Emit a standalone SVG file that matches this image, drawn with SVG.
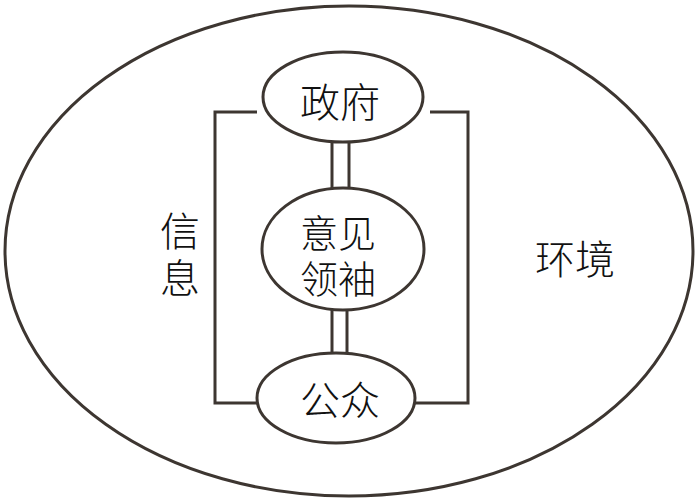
<svg xmlns="http://www.w3.org/2000/svg" width="700" height="503" viewBox="0 0 700 503">
<style>
.e{fill:#fff;stroke:#3d3631;stroke-width:3}
.c{fill:none;stroke:#3d3631;stroke-width:3}
.t{font-family:"Noto Sans CJK SC","Noto Sans CJK TC",sans-serif;font-size:40px;font-weight:300;fill:#111;text-anchor:middle;dominant-baseline:central}
</style>
<rect width="700" height="503" fill="#fff"/>
<g id="env">
<ellipse class="e" cx="349" cy="251" rx="344" ry="245"/>
<text class="t" x="575" y="257">环境</text>
</g>
<g id="connectors">
<polyline class="c" points="257,112 215,112 215,403 257,403"/>
<polyline class="c" points="430,112 468,112 468,403 415,403"/>
<line class="c" x1="332" y1="140" x2="332" y2="190"/>
<line class="c" x1="349" y1="140" x2="349" y2="190"/>
<line class="c" x1="332" y1="308" x2="332" y2="355"/>
<line class="c" x1="347" y1="308" x2="347" y2="355"/>
</g>
<g id="info-label">
<text class="t" x="180" y="229"><tspan x="180" y="229">信</tspan><tspan x="180" y="276">息</tspan></text>
</g>
<g id="gov">
<ellipse class="e" cx="343" cy="97" rx="80" ry="45"/>
<text class="t" x="340" y="100">政府</text>
</g>
<g id="leader">
<ellipse class="e" cx="343" cy="249" rx="81" ry="61"/>
<text class="t" x="338" y="230" style="font-size:38px"><tspan x="338" y="230">意见</tspan><tspan x="338" y="276">领袖</tspan></text>
</g>
<g id="public">
<ellipse class="e" cx="336" cy="398" rx="79" ry="45"/>
<text class="t" x="340" y="398">公众</text>
</g>
</svg>
